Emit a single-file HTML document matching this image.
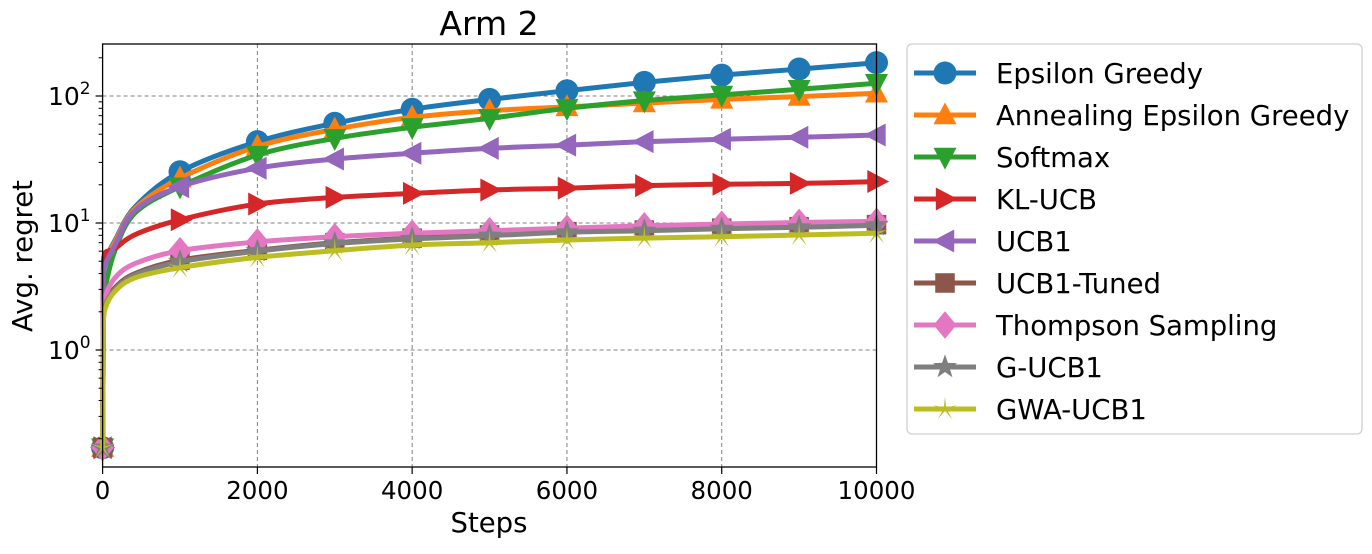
<!DOCTYPE html>
<html><head><meta charset="utf-8"><style>
body{margin:0;background:#fff;}
svg text{font-family:"DejaVu Sans","Liberation Sans",sans-serif;fill:#000;}
</style></head><body>
<svg id="chart" width="1372" height="549" xmlns="http://www.w3.org/2000/svg">
<g id="grid"></g><g id="series"></g><g id="axes"></g><g id="legend"></g>
</svg>
<script>
const steps = [0, 10, 30, 160, 420, 1000, 2000, 3000, 4000, 5000, 6000, 7000, 8000, 9000, 10000];
const seriesNames = ["Epsilon Greedy","Annealing Epsilon Greedy","Softmax","KL-UCB","UCB1","UCB1-Tuned","Thompson Sampling","G-UCB1","GWA-UCB1"];
const epsilonGreedy = [0.17, 4.5, 5.1, 7.3, 13.4, 25.3, 43.7, 61, 78.6, 94, 110, 128, 146, 163, 183];
const annealingEpsilon = [0.17, 4.2, 5.0, 7.1, 13.0, 22.5, 40, 54.7, 68, 76.6, 82, 88, 94, 99, 105];
const softmax = [0.17, 2.0, 3.0, 6.1, 12.0, 19.3, 34.3, 46.4, 56.7, 66.7, 80, 92, 102, 113, 126];
const klUcb = [0.17, 4.5, 5.8, 6.3, 8.1, 10.6, 14.1, 15.9, 17.1, 18.2, 18.8, 19.7, 20.2, 20.5, 21.2];
const ucb1 = [0.17, 3.5, 4.6, 6.7, 12.6, 19.3, 27, 31.9, 35.4, 38.7, 41, 43.7, 45.6, 47.3, 49.3];
const ucb1Tuned = [0.17, 1.6, 2.3, 3.1, 4.0, 5.1, 6.1, 7.0, 7.6, 8.05, 8.55, 8.8, 9.1, 9.35, 9.7];
const thompson = [0.17, 1.9, 2.6, 3.7, 4.8, 6.05, 7.1, 7.8, 8.3, 8.7, 9.1, 9.5, 9.8, 10.1, 10.3];
const gUcb1 = [0.17, 1.55, 2.2, 3.0, 3.9, 4.95, 6.0, 6.9, 7.5, 7.95, 8.45, 8.7, 9.0, 9.25, 9.6];
const gwaUcb1 = [0.17, 1.5, 2.1, 2.9, 3.7, 4.45, 5.37, 6.05, 6.7, 7.0, 7.35, 7.6, 7.8, 8.05, 8.3];
const xTicks = [0, 2000, 4000, 6000, 8000, 10000];
const yTicks = [1, 10, 100];
const yTickLabels = ["0", "1", "2"];

const allSeries = [epsilonGreedy, annealingEpsilon, softmax, klUcb, ucb1, ucb1Tuned, thompson, gUcb1, gwaUcb1];
const colors = ["#1f77b4","#ff7f0e","#2ca02c","#d62728","#9467bd","#8c564b","#e377c2","#7f7f7f","#bcbd22"];
const markers = ["circle","tri-up","tri-down","tri-right","tri-left","square","diamond","star","star-thin"];
const L=102.6, R=876.5, T=44, B=467;
const X = v => L + (v/10000)*(R-L);
const Y = v => 350 - Math.log10(v)*127;
const NS="http://www.w3.org/2000/svg";
function mk(tag, attrs, parent){const e=document.createElementNS(NS,tag);for(const k in attrs)e.setAttribute(k,attrs[k]);parent.appendChild(e);return e;}
const grid=document.getElementById('grid'), ser=document.getElementById('series'), ax=document.getElementById('axes'), leg=document.getElementById('legend');

for(const t of xTicks){ if(t===0||t===10000) continue;
  const g=mk('line',{x1:X(t),x2:X(t),y1:T,y2:B,stroke:'#808080','stroke-width':1,'stroke-dasharray':'4,3'},grid);
  
  
}
for(const t of yTicks){
  const g=mk('line',{x1:L,x2:R,y1:Y(t),y2:Y(t),stroke:'#808080','stroke-width':1,'stroke-dasharray':'4,3'},grid);
  
  
}

function marker(type,cx,cy,s,color,parent){
  let p;
  const r=s;
  if(type==='circle') p=mk('circle',{cx,cy,r:r},parent);
  else if(type==='square') p=mk('rect',{x:cx-r*0.85,y:cy-r*0.85,width:r*1.7,height:r*1.7},parent);
  else if(type==='diamond') p=mk('polygon',{points:`${cx},${cy-r*1.2} ${cx+r},${cy} ${cx},${cy+r*1.2} ${cx-r},${cy}`},parent);
  else if(type.startsWith('tri')){
    const d=type.split('-')[1]; let pts;
    if(d==='up') pts=[[0,-1.1],[1,0.8],[-1,0.8]];
    if(d==='down') pts=[[0,1.1],[1,-0.8],[-1,-0.8]];
    if(d==='right') pts=[[1.1,0],[-0.8,1],[-0.8,-1]];
    if(d==='left') pts=[[-1.1,0],[0.8,1],[0.8,-1]];
    p=mk('polygon',{points:pts.map(q=>`${cx+q[0]*r},${cy+q[1]*r}`).join(' ')},parent);
  } else {
    const k = type==='star'?0.4:0.15; let pts=[];
    for(let i=0;i<10;i++){const a=-Math.PI/2+i*Math.PI/5;const rr=i%2?r*k*1.1:r*1.1;pts.push(`${cx+rr*Math.cos(a)},${cy+rr*Math.sin(a)}`);}
    p=mk('polygon',{points:pts.join(' ')},parent);
  }
  p.setAttribute('fill',color);
  return p;
}

allSeries.forEach((vals,i)=>{
  const g=mk('g',{},ser);
  
  
  const pts=vals.map((v,j)=>[X(steps[j]),Y(v)]);
  let d='M'+pts[0][0].toFixed(1)+','+pts[0][1].toFixed(1);
  for(let j=1;j<pts.length;j++){
    if(j<2){ d+=' L'+pts[j][0].toFixed(1)+','+pts[j][1].toFixed(1); continue; }
    const p0=pts[Math.max(j-2,1)], p1=pts[j-1], p2=pts[j], p3=pts[Math.min(j+1,pts.length-1)];
    const c1x=p1[0]+(p2[0]-p0[0])/6, c1y=p1[1]+(p2[1]-p0[1])/6;
    const c2x=p2[0]-(p3[0]-p1[0])/6, c2y=p2[1]-(p3[1]-p1[1])/6;
    d+=` C${c1x.toFixed(1)},${c1y.toFixed(1)} ${c2x.toFixed(1)},${c2y.toFixed(1)} ${p2[0].toFixed(1)},${p2[1].toFixed(1)}`;
  }
  const ln=mk('path',{d,fill:'none',stroke:colors[i],'stroke-width':5,'stroke-linejoin':'round'},g);
  
  
  vals.forEach((v,j)=>{ if(steps[j]%1000!==0) return;
    const m=marker(markers[i],X(steps[j]),Y(v),11.5,colors[i],g);
    
    
  });
});

const fr=mk('rect',{x:L,y:T,width:R-L,height:B-T,fill:'none',stroke:'#000','stroke-width':1.3},ax);


xTicks.forEach(t=>{
  const tk=mk('line',{x1:X(t),x2:X(t),y1:B,y2:B+7,stroke:'#000','stroke-width':1.2},ax);
  
  
  const tx=mk('text',{x:X(t),y:B+32,'font-size':24.5,'text-anchor':'middle'},ax);
  tx.textContent=String(t);
  
  
});
yTicks.forEach((t,i)=>{
  const tk=mk('line',{x1:L-7,x2:L,y1:Y(t),y2:Y(t),stroke:'#000','stroke-width':1.2},ax);
  
  
  const tx=mk('text',{x:L-12,y:Y(t)+9,'font-size':25,'text-anchor':'end'},ax);
  tx.innerHTML='10<tspan font-size="17" dy="-11">'+yTickLabels[i]+'</tspan>';
  
  
});
for(let e=-1;e<=2;e++) for(let m=2;m<=9;m++){
  const v=m*Math.pow(10,e), y=Y(v); if(y<T||y>B) continue;
  const tk=mk('line',{x1:L-4,x2:L,y1:y,y2:y,stroke:'#000','stroke-width':1},ax);
  
  
}
let t=mk('text',{x:489,y:35,'font-size':33,'text-anchor':'middle'},ax);t.textContent='Arm 2';


t=mk('text',{x:489,y:532,'font-size':27.5,'text-anchor':'middle'},ax);t.textContent='Steps';


t=mk('text',{x:0,y:0,'font-size':27.5,'text-anchor':'middle',transform:'translate(32,256) rotate(-90)'},ax);t.textContent='Avg. regret';



const box=mk('rect',{x:907,y:44,width:455,height:390,rx:5,fill:'#fff',stroke:'#d0d0d0','stroke-width':1.3},leg);


seriesNames.forEach((n,i)=>{
  const y=73+i*42;
  const g=mk('g',{},leg);
  
  
  mk('line',{x1:914,x2:976,y1:y,y2:y,stroke:colors[i],'stroke-width':5},g);
  marker(markers[i],945,y,11.5,colors[i],g);
  const tx=mk('text',{x:996,y:y+10,'font-size':27.5},g);
  tx.textContent=n;
});
</script>
</body></html>
